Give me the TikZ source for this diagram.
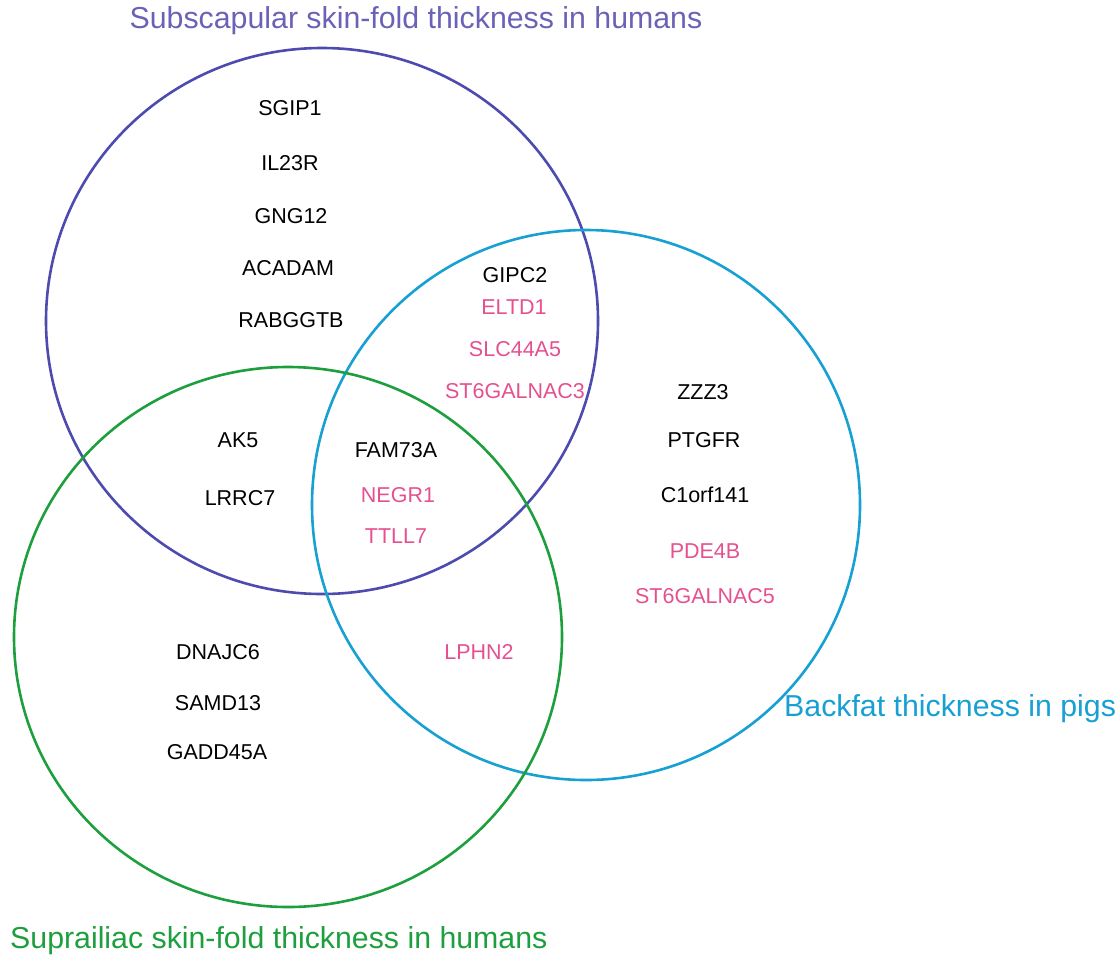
\documentclass[tikz,border=0pt]{standalone}
\usepackage{fontspec}
\setmainfont{Liberation Sans}
\usepackage{xcolor}
\usepackage{tikz}
\usetikzlibrary{shapes,positioning}
\definecolor{subcol}{HTML}{4D4BAE}
\definecolor{subtxt}{HTML}{6A62B6}
\definecolor{pigcol}{HTML}{17A0D2}
\definecolor{supcol}{HTML}{1E9F3E}
\definecolor{gpink}{HTML}{E5508F}
\tikzset{gene/.style={inner sep=0pt,font=\fontsize{21.5}{24}\selectfont},
  hit/.style={gene,text=gpink},
  setlabel/.style={inner sep=0pt,font=\fontsize{30.3}{34}\selectfont},
  ring/.style={line width=2.6pt}}

\begin{document}
\begin{tikzpicture}[x=1pt,y=-1pt]
    \useasboundingbox (0,0) rectangle (1119,956);
    \draw [ring,subcol] (322,321) ellipse [x radius=276,y radius=273];
    \draw [ring,pigcol] (586,505) ellipse [x radius=274,y radius=275];
    \draw [ring,supcol] (288,637) ellipse [x radius=274,y radius=270];

    \node[setlabel,text=subtxt] (subscap) at (416,21) {Subscapular skin-fold thickness in humans};
    \node[setlabel,text=pigcol,anchor=west] (backfat) at (784,709) {Backfat thickness in pigs};
    \node[setlabel,text=supcol,anchor=west] (supra) at (10,941) {Suprailiac skin-fold thickness in humans};

    \node[gene] (sgip) at (290,108) {SGIP1};
    \node[gene] (il23r) at (290,163) {IL23R};
    \node[gene] (gng) at (291,216) {GNG12};
    \node[gene] (acadam) at (288,268) {ACADAM};
    \node[gene] (rabggtb) at (291,320) {RABGGTB};

    \node[gene] (gipc) at (515,275) {GIPC2};
    \node[hit] (eltd) at (514,307) {ELTD1};
    \node[hit] (slc) at (515,349) {SLC44A5};
    \node[hit] (stthree) at (515,391) {ST6GALNAC3};

    \node[gene] (zzz) at (703,392) {ZZZ3};
    \node[gene] (ptgfr) at (704,440) {PTGFR};
    \node[gene] (corf) at (705,495) {C1orf141};
    \node[hit] (pde) at (705,551) {PDE4B};
    \node[hit] (stfive) at (705,596) {ST6GALNAC5};

    \node[gene] (ak) at (238,440) {AK5};
    \node[gene] (lrrc) at (240,498) {LRRC7};
    \node[gene] (fam) at (396,450) {FAM73A};
    \node[hit] (negr) at (398,495) {NEGR1};
    \node[hit] (ttll) at (396,536) {TTLL7};

    \node[gene] (dnajc) at (218,652) {DNAJC6};
    \node[gene] (samd) at (218,703) {SAMD13};
    \node[gene] (gadd) at (217,752) {GADD45A};
    \node[hit] (lphn) at (479,652) {LPHN2};
\end{tikzpicture}
\end{document}
